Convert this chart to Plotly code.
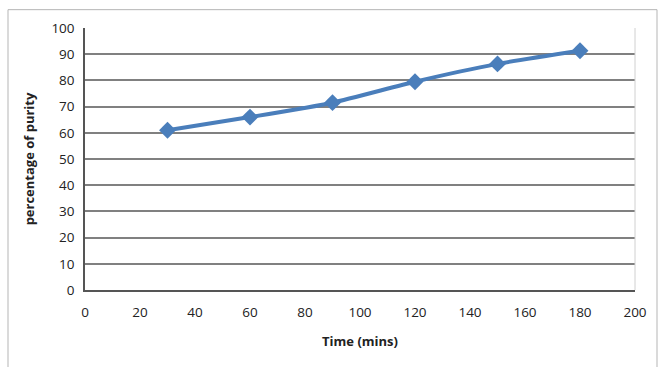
import plotly.graph_objects as go

# Purity of the product over the reaction time
time_mins = [30, 60, 90, 120, 150, 180]
purity_pct = [61, 66, 71.5, 79.5, 86.3, 91.3]

x_ticks = [0, 20, 40, 60, 80, 100, 120, 140, 160, 180, 200]
y_ticks = [0, 10, 20, 30, 40, 50, 60, 70, 80, 90, 100]

BLUE = "#4a7ebb"
GRID = "#808080"
FONT = "Open Sans, Liberation Sans, sans-serif"

fig = go.Figure()
fig.add_trace(go.Scatter(
    x=time_mins,
    y=purity_pct,
    mode="lines+markers",
    line=dict(color=BLUE, width=4, shape="spline", smoothing=0.6),
    marker=dict(symbol="diamond", size=13, color=BLUE),
    showlegend=False,
))

# Chart-area frame around the whole plot
fig.add_shape(type="rect", xref="paper", yref="paper",
              x0=-0.14, x1=1.04, y0=-0.30, y1=1.07,
              line=dict(color="#b5b5b5", width=1), fillcolor="rgba(0,0,0,0)", layer="below")

fig.update_layout(
    width=660, height=367,
    margin=dict(l=85, r=25, t=27.5, b=77),
    paper_bgcolor="white", plot_bgcolor="white",
    font=dict(family=FONT, size=13.5, color="#222222"),
    xaxis=dict(
        range=[0, 200], tickvals=x_ticks, showgrid=False, zeroline=False,
        showline=True, linecolor="#555555", linewidth=1.5,
        mirror=False, ticks="", ticklen=0, ticklabelstandoff=9,
        tickfont=dict(size=13.5),
        title=dict(text="<b>Time (mins)</b>", font=dict(size=13, family=FONT), standoff=17),
    ),
    yaxis=dict(
        range=[0, 100], tickvals=y_ticks, showgrid=True, gridcolor=GRID, gridwidth=2,
        zeroline=False, showline=True, linecolor="#555555", linewidth=1.5,
        ticks="", ticklen=0, ticklabelstandoff=6,
        tickfont=dict(size=13.5),
        title=dict(text="<b>percentage of purity</b>", font=dict(size=13, family=FONT), standoff=14),
    ),
)

# Light right-hand edge of the plot area
fig.add_shape(type="line", xref="paper", yref="paper", x0=1, x1=1, y0=0, y1=1,
              line=dict(color="#d0d0d0", width=1))

fig.write_html("out.html")
